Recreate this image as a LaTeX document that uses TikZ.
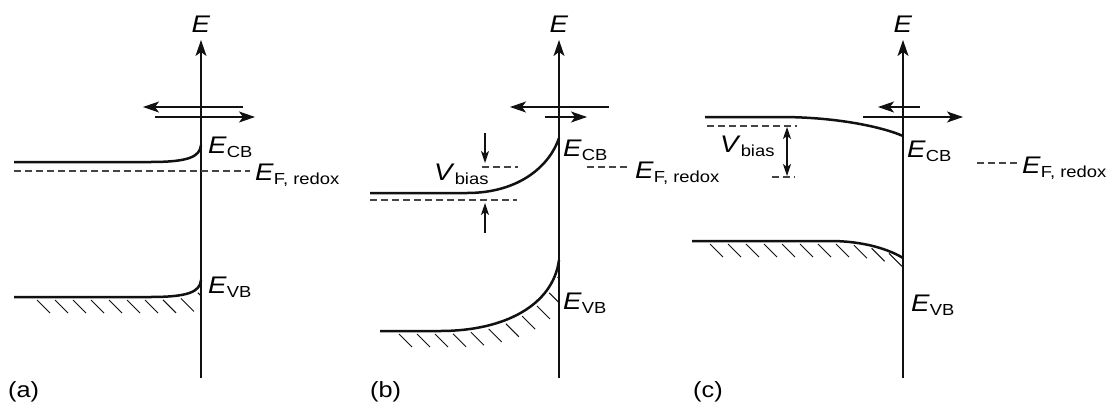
\documentclass[tikz,border=0pt]{standalone}
\usepackage{fontspec}
\setmainfont{Liberation Sans}[FakeStretch=1.15]
\usetikzlibrary{arrows.meta,decorations.markings}
\definecolor{bandInk}{HTML}{111111}
\definecolor{bandDash}{HTML}{444444}
\newcommand{\lvl}[2]{\textit{#1}\raisebox{-4.5pt}{\fontsize{16}{16}\selectfont #2}}
\begin{document}
\begin{tikzpicture}[x=1pt,y=-1pt,>={Stealth[length=16pt,width=11pt,inset=4pt]},line join=round]
\path[fill=white] (0,0) rectangle (1114,405);
\tikzset{eaxis/.style={draw=bandInk,line width=1.2pt},band/.style={draw=bandInk,line width=2.5pt},fermi/.style={draw=bandDash,line width=1.3pt,dash pattern=on 7pt off 4pt},flow/.style={draw=bandInk,line width=1.2pt,->},small/.style={-{Stealth[length=12pt,width=8pt,inset=3pt]}},twoway/.style={{Stealth[length=12pt,width=8pt,inset=3pt]}-{Stealth[length=12pt,width=8pt,inset=3pt]}},hatched/.style={decorate,decoration={markings,mark=between positions #1 and 1 step 18pt with {\pgftransformresetnontranslations\draw[bandInk,line width=1pt] (2,3) -- (15,16);}}},lbl/.style={anchor=base west,font=\fontsize{24}{26}\selectfont,inner sep=0pt},tag/.style={anchor=base west,font=\fontsize{22}{24}\selectfont,inner sep=0pt}}
\coordinate (aBot) at (201,378); \coordinate (aTop) at (201,40);
\coordinate (bBot) at (559,378); \coordinate (bTop) at (559,40);
\coordinate (cBot) at (903,378); \coordinate (cTop) at (903,40);
\draw[eaxis,->] (aBot) -- (aTop); \draw[eaxis,->] (bBot) -- (bTop); \draw[eaxis,->] (cBot) -- (cTop);
\node[lbl,anchor=base] (aE) at (201,32) {\textit{E}}; \node[lbl,anchor=base] (bE) at (559,32) {\textit{E}}; \node[lbl,anchor=base] (cE) at (903,32) {\textit{E}};
\draw[flow] (243,107) -- (143,107); \draw[flow] (155,117) -- (255,117);
\draw[flow] (609,107) -- (510,107); \draw[flow] (545,117) -- (587,117);
\draw[flow] (920,107) -- (878,107); \draw[flow] (863,117) -- (963,117);
\draw[band] (14,162) -- (150,162) .. controls (188,162) and (200,157) .. (201,145);
\draw[fermi] (14,171) -- (250,171);
\draw[band] (14,297) -- (150,297) .. controls (188,297) and (200,292) .. (201,280);
\begin{scope} \clip (0,250) rectangle (201,340); \path[hatched=21pt] (14,297) -- (150,297) .. controls (188,297) and (200,292) .. (201,280); \end{scope}
\node[lbl] (aCB) at (208,153) {\lvl{E}{CB}}; \node[lbl] (aF) at (255,180) {\lvl{E}{F, redox}}; \node[lbl] (aVB) at (208,293) {\lvl{E}{VB}};
\node[tag] (aTag) at (8,397) {(a)};
\draw[band] (370,193) -- (467,193) .. controls (520,193) and (550,165) .. (559,138);
\draw[fermi] (482,167) -- (518,167); \draw[fermi] (370,200) -- (517,200); \draw[fermi] (587,167) -- (628,167);
\draw[flow,small] (485,133) -- (485,163); \draw[flow,small] (485,233) -- (485,203);
\draw[band] (380,331) -- (440,331) .. controls (505,331) and (553,305) .. (559,260);
\begin{scope} \clip (360,250) rectangle (559,360); \path[hatched=17pt] (380,331) -- (440,331) .. controls (505,331) and (553,305) .. (559,260); \end{scope}
\node[lbl] (bV) at (434,180) {\lvl{V}{bias}};
\node[lbl] (bCB) at (563,156) {\lvl{E}{CB}}; \node[lbl] (bF) at (635,178) {\lvl{E}{F, redox}}; \node[lbl] (bVB) at (563,309) {\lvl{E}{VB}};
\node[tag] (bTag) at (370,397) {(b)};
\draw[band] (705,117) -- (780,117) .. controls (840,117) and (885,128) .. (903,136);
\draw[fermi] (707,126) -- (797,126); \draw[fermi] (772,177) -- (795,177); \draw[fermi] (977,163) -- (1017,163);
\draw[flow,twoway] (787,127) -- (787,176);
\draw[band] (692,241) -- (830,241) .. controls (865,241) and (890,250) .. (903,258);
\begin{scope} \clip (680,230) rectangle (903,290); \path[hatched=16pt] (692,241) -- (830,241) .. controls (865,241) and (890,250) .. (903,258); \end{scope}
\node[lbl] (cV) at (720,152) {\lvl{V}{bias}};
\node[lbl] (cCB) at (907,157) {\lvl{E}{CB}}; \node[lbl] (cF) at (1022,173) {\lvl{E}{F, redox}}; \node[lbl] (cVB) at (911,311) {\lvl{E}{VB}};
\node[tag] (cTag) at (693,397) {(c)};
\end{tikzpicture}
\end{document}
